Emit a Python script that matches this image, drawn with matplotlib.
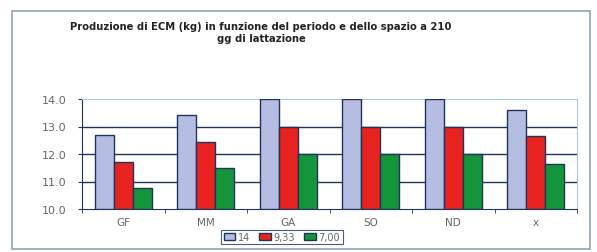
import matplotlib.pyplot as plt
import matplotlib.patches as patches
import numpy as np

categories = ['GF', 'MM', 'GA', 'SO', 'ND', 'x']
series_names = ['14', '9,33', '7,00']
val_14 = [12.7, 13.4, 14.0, 14.0, 14.0, 13.6]
val_933 = [11.7, 12.45, 13.0, 13.0, 13.0, 12.65]
val_700 = [10.75, 11.5, 12.0, 12.0, 12.0, 11.65]
yticks = [10.0, 11.0, 12.0, 13.0, 14.0]

colors = ['#b6bde2', '#e8231f', '#15953b']
navy = '#1c3559'

fig = plt.figure(figsize=(5.97, 2.53), dpi=100)

# outer chart frame
fig.patches.append(patches.Rectangle((12 / 597, 3 / 253), 578 / 597, 238 / 253,
                                     transform=fig.transFigure, fill=False,
                                     edgecolor='#8fa3b8', linewidth=1.2))

ax = fig.add_axes([82 / 597, 1 - 210 / 253, 495 / 597, 110 / 253])

x = np.arange(len(categories))
w = 0.23
for i, vals in enumerate([val_14, val_933, val_700]):
    ax.bar(x + (i - 1) * w, np.array(vals) - 10, width=w, bottom=10,
           color=colors[i], edgecolor=navy, linewidth=1.0, zorder=3,
           label=series_names[i])

ax.set_xlim(-0.5, len(categories) - 0.5)
ax.set_ylim(10, 14)
for yv in [11, 12, 13]:
    ax.axhline(yv, color=navy, linewidth=1.0, zorder=1)
ax.set_yticks(yticks)
ax.set_yticklabels([f'{v:.1f}' for v in yticks], fontsize=8, color='#666666')
ax.set_xticks(x)
ax.set_xticklabels(categories, fontsize=7.5, color='#666666')
ax.set_xticks(np.arange(len(categories) + 1) - 0.5, minor=True)
ax.tick_params(axis='x', which='major', length=0, pad=6)
ax.tick_params(axis='x', which='minor', length=3, color=navy)
ax.tick_params(axis='y', length=3, color=navy, pad=8)

ax.spines['left'].set_color(navy)
ax.spines['bottom'].set_color(navy)
ax.spines['top'].set_color('#a9cbe3')
ax.spines['right'].set_color('#a9cbe3')

fig.text(261 / 597, 1 - 27 / 253, 'Produzione di ECM (kg) in funzione del periodo e dello spazio a 210',
         ha='center', va='center', fontsize=7.2, fontweight='bold', color='#222222')
fig.text(261 / 597, 1 - 39 / 253, 'gg di lattazione',
         ha='center', va='center', fontsize=7.2, fontweight='bold', color='#222222')

leg = fig.legend(loc='center', bbox_to_anchor=(282 / 597, 1 - 238 / 253), ncol=3,
                 fontsize=7, frameon=True, fancybox=False, handlelength=1.2,
                 handleheight=0.6, handletextpad=0.3, columnspacing=0.9,
                 borderpad=0.25, labelcolor='#666666')
leg.get_frame().set_edgecolor(navy)
leg.get_frame().set_linewidth(0.8)

fig.savefig('out.png', dpi=100)
